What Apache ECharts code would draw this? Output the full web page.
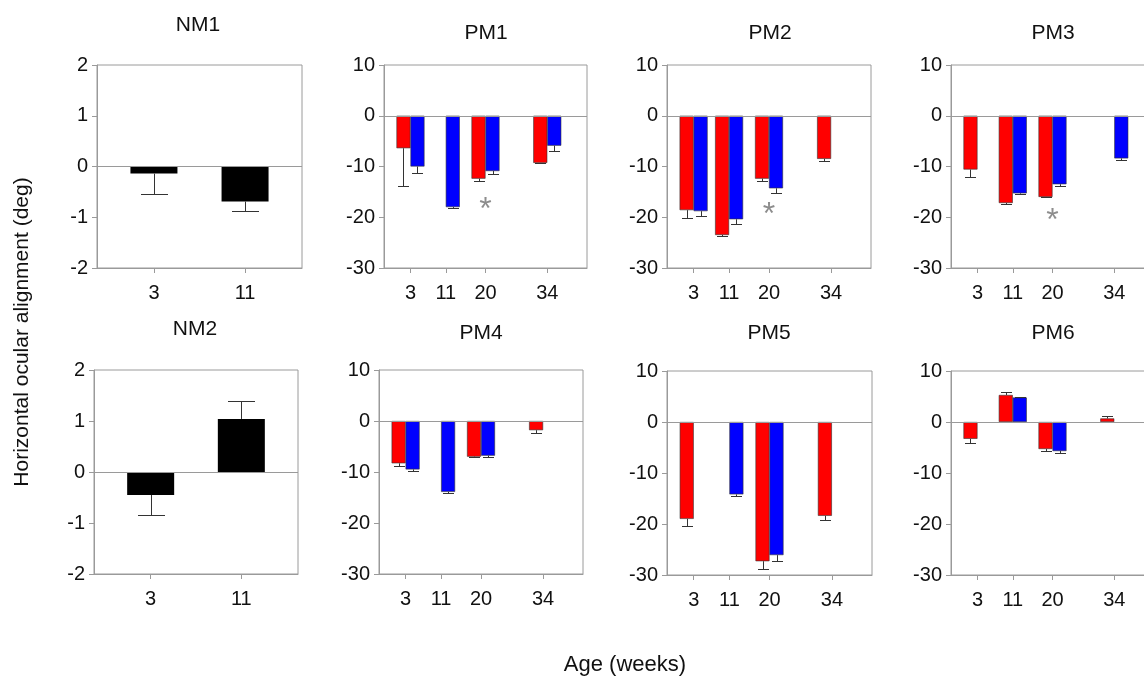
<!DOCTYPE html>
<html>
<head>
<meta charset="utf-8">
<script src="https://cdn.jsdelivr.net/npm/echarts@6/dist/echarts.min.js"></script>
<style>
  html, body { margin: 0; background: #fff; }
  #chart { width: 1144px; height: 677px; }
</style>
</head>
<body>
<div id="chart"></div>
<script>
// age in weeks
const weeks = [3, 11, 20, 34]
const nmWeeks = [3, 11]

// normal monkeys (single bar per age), value + SE
const nm1Values = [-0.14, -0.69]
const nm1SE = [0.40, 0.18]
const nm2Values = [-0.45, 1.04]
const nm2SE = [0.40, 0.35]

// PM monkeys: red / blue series, null = no measurement
const pm1Red = [-6.4, null, -12.4, -9.3]
const pm1RedSE = [7.4, null, 0.4, 0.1]
const pm1Blue = [-10.0, -18.0, -10.9, -5.9]
const pm1BlueSE = [1.3, 0.2, 0.6, 1.1]

const pm2Red = [-18.6, -23.5, -12.4, -8.5]
const pm2RedSE = [1.5, 0.2, 0.4, 0.5]
const pm2Blue = [-18.8, -20.4, -14.3, null]
const pm2BlueSE = [1.0, 1.0, 1.0, null]

const pm3Red = [-10.6, -17.2, -16.0, null]
const pm3RedSE = [1.5, 0.1, 0.1, null]
const pm3Blue = [null, -15.3, -13.5, -8.4]
const pm3BlueSE = [null, 0.2, 0.3, 0.4]

const pm4Red = [-8.3, null, -7.0, -1.8]
const pm4RedSE = [0.5, null, 0.1, 0.5]
const pm4Blue = [-9.5, -13.9, -6.8, null]
const pm4BlueSE = [0.4, 0.3, 0.3, null]

const pm5Red = [-19.0, null, -27.3, -18.4]
const pm5RedSE = [1.3, null, 1.6, 0.9]
const pm5Blue = [null, -14.2, -26.1, null]
const pm5BlueSE = [null, 0.3, 1.2, null]

const pm6Red = [-3.3, 5.3, -5.3, 0.7]
const pm6RedSE = [0.9, 0.6, 0.3, 0.5]
const pm6Blue = [null, 4.8, -5.7, null]
const pm6BlueSE = [null, 0.1, 0.4, null]

// significance markers [week, y]
const pm1Star = [[20, -17.3]]
const pm2Star = [[20, -18.2]]
const pm3Star = [[20, -19.4]]

const FONT = 'Liberation Sans, Arial, sans-serif'
const AXIS_GRAY = '#9a9a9a'
const ERR_COLOR = '#333'
const TICK_FONT = 20

const panels = [
  { name: 'NM1', kind: 'nm', values: nm1Values, se: nm1SE,
    grid: { left: 97, top: 65, width: 205, height: 203 }, title: [198, 25] },
  { name: 'PM1', red: pm1Red, redSE: pm1RedSE, blue: pm1Blue, blueSE: pm1BlueSE, star: pm1Star,
    grid: { left: 384, top: 65, width: 203, height: 203 }, title: [486, 33] },
  { name: 'PM2', red: pm2Red, redSE: pm2RedSE, blue: pm2Blue, blueSE: pm2BlueSE, star: pm2Star,
    grid: { left: 667, top: 65, width: 204, height: 203 }, title: [770, 33] },
  { name: 'PM3', red: pm3Red, redSE: pm3RedSE, blue: pm3Blue, blueSE: pm3BlueSE, star: pm3Star,
    grid: { left: 951, top: 65, width: 203, height: 203 }, title: [1053, 33] },
  { name: 'NM2', kind: 'nm', values: nm2Values, se: nm2SE,
    grid: { left: 94, top: 370, width: 204, height: 204 }, title: [195, 329] },
  { name: 'PM4', red: pm4Red, redSE: pm4RedSE, blue: pm4Blue, blueSE: pm4BlueSE,
    grid: { left: 379, top: 370, width: 204, height: 204 }, title: [481, 333] },
  { name: 'PM5', red: pm5Red, redSE: pm5RedSE, blue: pm5Blue, blueSE: pm5BlueSE,
    grid: { left: 667, top: 371, width: 205, height: 204 }, title: [769, 333] },
  { name: 'PM6', red: pm6Red, redSE: pm6RedSE, blue: pm6Blue, blueSE: pm6BlueSE,
    grid: { left: 951, top: 371, width: 203, height: 204 }, title: [1053, 333] }
]

function barData(xs, ys) {
  return xs.map((x, i) => [x, ys[i]]).filter((d) => d[1] != null)
}

function errData(xs, ys, se) {
  return xs.map((x, i) => [x, ys[i], se[i]]).filter((d) => d[1] != null)
}

// error bar drawn only on the side away from zero, with a cap
function errRenderer(dx, cap) {
  return function (params, api) {
    const v = api.value(1)
    const se = api.value(2)
    const dir = v < 0 ? -1 : 1
    const a = api.coord([api.value(0), v])
    const b = api.coord([api.value(0), v + dir * se])
    const cx = Math.round(a[0] + dx) + 0.5
    const by = Math.round(b[1]) + 0.5
    return {
      type: 'group',
      children: [
        { type: 'line', shape: { x1: cx, y1: a[1], x2: cx, y2: by }, style: { stroke: ERR_COLOR, lineWidth: 1 } },
        { type: 'line', shape: { x1: cx - cap / 2, y1: by, x2: cx + cap / 2, y2: by }, style: { stroke: ERR_COLOR, lineWidth: 1 } }
      ]
    }
  }
}

const grids = []
const xAxes = []
const yAxes = []
const series = []
const graphics = []

const zeroLine = {
  silent: true,
  symbol: ['none', 'none'],
  label: { show: false },
  lineStyle: { color: AXIS_GRAY, type: 'solid', width: 1 },
  emphasis: { disabled: true },
  data: [{ yAxis: 0 }]
}

panels.forEach((p, i) => {
  const isNM = p.kind === 'nm'
  grids.push(Object.assign({
    show: true, borderColor: AXIS_GRAY, borderWidth: 1, backgroundColor: 'transparent',
    containLabel: false, outerBoundsMode: 'none'
  }, p.grid))

  const ticks = isNM ? nmWeeks : weeks
  xAxes.push({
    gridIndex: i,
    type: 'value',
    min: isNM ? -2 : -3,
    max: isNM ? 16 : 43,
    splitLine: { show: false },
    axisLine: { onZero: false, lineStyle: { color: AXIS_GRAY } },
    axisTick: { customValues: ticks, length: 5, lineStyle: { color: AXIS_GRAY } },
    axisLabel: { customValues: ticks, fontSize: TICK_FONT, color: '#111', fontFamily: FONT, margin: 15 }
  })
  yAxes.push({
    gridIndex: i,
    type: 'value',
    min: isNM ? -2 : -30,
    max: isNM ? 2 : 10,
    interval: isNM ? 1 : 10,
    splitLine: { show: false },
    axisLine: { show: true, onZero: false, lineStyle: { color: AXIS_GRAY } },
    axisTick: { show: true, length: 5, lineStyle: { color: AXIS_GRAY } },
    axisLabel: { fontSize: TICK_FONT, color: '#111', fontFamily: FONT, margin: 9 }
  })

  if (isNM) {
    series.push({
      type: 'bar', xAxisIndex: i, yAxisIndex: i,
      data: barData(nmWeeks, p.values),
      barWidth: 47,
      itemStyle: { color: '#000' },
      markLine: zeroLine,
      z: 2
    })
    series.push({
      type: 'custom', xAxisIndex: i, yAxisIndex: i,
      data: errData(nmWeeks, p.values, p.se),
      encode: { x: 0, y: 1 },
      renderItem: errRenderer(0, 27),
      z: 3
    })
  } else {
    series.push({
      type: 'bar', xAxisIndex: i, yAxisIndex: i,
      data: barData(weeks, p.red),
      barWidth: 14, barGap: '0%',
      itemStyle: { color: '#ff0000', borderColor: '#333', borderWidth: 0.6 },
      markLine: zeroLine,
      z: 2
    })
    series.push({
      type: 'bar', xAxisIndex: i, yAxisIndex: i,
      data: barData(weeks, p.blue),
      barWidth: 14, barGap: '0%',
      itemStyle: { color: '#0000ff', borderColor: '#333', borderWidth: 0.6 },
      z: 2
    })
    series.push({
      type: 'custom', xAxisIndex: i, yAxisIndex: i,
      data: errData(weeks, p.red, p.redSE),
      encode: { x: 0, y: 1 },
      renderItem: errRenderer(-7, 11),
      z: 3
    })
    series.push({
      type: 'custom', xAxisIndex: i, yAxisIndex: i,
      data: errData(weeks, p.blue, p.blueSE),
      encode: { x: 0, y: 1 },
      renderItem: errRenderer(7, 11),
      z: 3
    })
    if (p.star) {
      series.push({
        type: 'scatter', xAxisIndex: i, yAxisIndex: i,
        data: p.star,
        symbolSize: 1,
        itemStyle: { color: 'transparent' },
        label: {
          show: true, position: 'inside', formatter: '*',
          fontSize: 32, color: '#707070', fontFamily: FONT, offset: [0, 7]
        },
        silent: true,
        z: 4
      })
    }
  }

  graphics.push({
    type: 'text',
    x: p.title[0], y: p.title[1],
    style: {
      text: p.name, fontSize: 21, fontFamily: FONT, fill: '#111',
      align: 'center', verticalAlign: 'middle', textAlign: 'center', textVerticalAlign: 'middle'
    }
  })
})

graphics.push({
  type: 'text',
  x: 22, y: 332,
  rotation: Math.PI / 2,
  style: {
    text: 'Horizontal ocular alignment (deg)', fontSize: 21, fontFamily: FONT, fill: '#111',
    align: 'center', verticalAlign: 'middle', textAlign: 'center', textVerticalAlign: 'middle'
  }
})
graphics.push({
  type: 'text',
  x: 625, y: 665,
  style: {
    text: 'Age (weeks)', fontSize: 22, fontFamily: FONT, fill: '#111',
    align: 'center', verticalAlign: 'middle', textAlign: 'center', textVerticalAlign: 'middle'
  }
})

const chart = echarts.init(document.getElementById('chart'))
chart.setOption({
  animation: false,
  textStyle: { fontFamily: FONT },
  grid: grids,
  xAxis: xAxes,
  yAxis: yAxes,
  series: series,
  graphic: graphics
})
</script>
</body>
</html>
